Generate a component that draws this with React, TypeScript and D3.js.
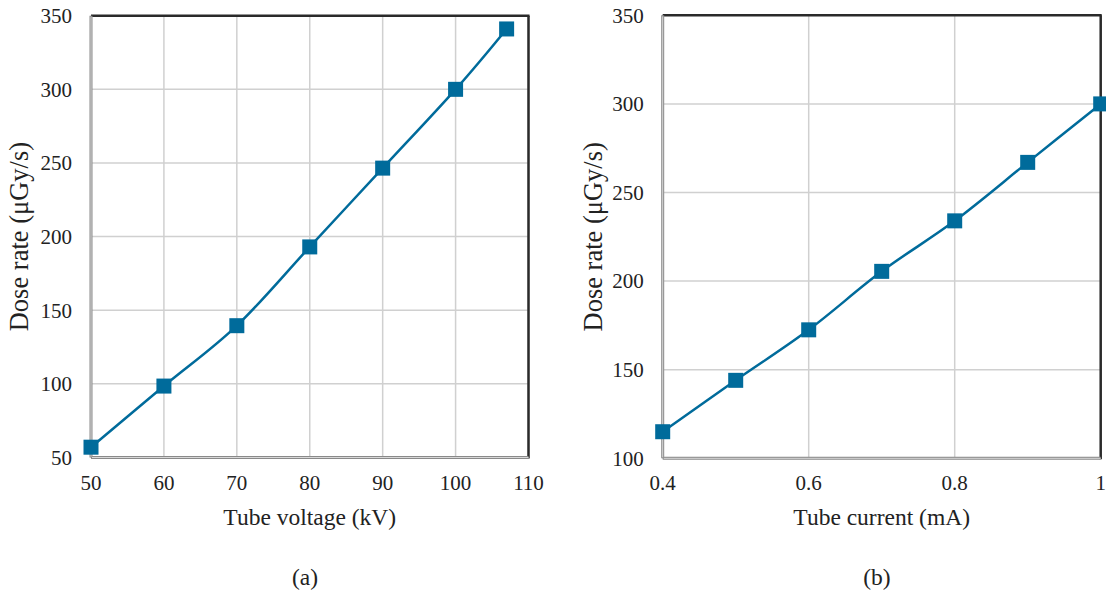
import React from "react";
import * as d3 from "d3";

const voltageKV = [50, 60, 70, 80, 90, 100, 107];
const doseRateVoltage = [57, 98.5, 139.5, 193, 246.5, 300, 341];
const voltageTicks = [50, 60, 70, 80, 90, 100, 110];
const doseTicksA = [50, 100, 150, 200, 250, 300, 350];

const currentMA = [0.4, 0.5, 0.6, 0.7, 0.8, 0.9, 1.0];
const doseRateCurrent = [115, 144, 172.5, 205.5, 234, 267, 300];
const currentTicks = [0.4, 0.6, 0.8, 1];
const doseTicksB = [100, 150, 200, 250, 300, 350];

const COLOR = "#006b9b";
const FONT = "'Liberation Serif', 'Times New Roman', serif";

type PanelProps = {
  xs: number[];
  ys: number[];
  xTicks: number[];
  yTicks: number[];
  xDomain: [number, number];
  yDomain: [number, number];
  left: number;
  right: number;
  top: number;
  bottom: number;
  xLabel: string;
  yLabel: string;
  yLabelX: number;
  caption: string;
  captionX: number;
  fmt: (v: number) => string;
};

function Panel(p: PanelProps) {
  const x = d3.scaleLinear().domain(p.xDomain).range([p.left, p.right]);
  const y = d3.scaleLinear().domain(p.yDomain).range([p.bottom, p.top]);
  const pts: [number, number][] = p.xs.map((v, i) => [x(v), y(p.ys[i])]);
  const line = d3.line().curve(d3.curveCardinal.tension(0))(pts) || "";
  const ms = 15;
  return (
    <g>
      {p.yTicks.map((t) => (
        <line key={"gy" + t} x1={p.left} x2={p.right} y1={y(t)} y2={y(t)} stroke="#d0d0d0" strokeWidth={1.5} />
      ))}
      {p.xTicks.map((t) => (
        <line key={"gx" + t} x1={x(t)} x2={x(t)} y1={p.top} y2={p.bottom} stroke="#d0d0d0" strokeWidth={1.5} />
      ))}
      {/* top & right dark border */}
      <line x1={p.left} x2={p.right + 1} y1={p.top} y2={p.top} stroke="#2a2a2a" strokeWidth={2.5} />
      <line x1={p.right} x2={p.right} y1={p.top} y2={p.bottom + 1} stroke="#2a2a2a" strokeWidth={2.5} />
      {/* left & bottom gray double border */}
      <line x1={p.left} x2={p.left} y1={p.top} y2={p.bottom} stroke="#8a8a8a" strokeWidth={3} />
      <line x1={p.left} x2={p.right} y1={p.bottom} y2={p.bottom} stroke="#8a8a8a" strokeWidth={3} />
      <line x1={p.left} x2={p.left} y1={p.top + 1} y2={p.bottom - 1} stroke="#d8d8d8" strokeWidth={1} />
      <line x1={p.left + 1} x2={p.right} y1={p.bottom} y2={p.bottom} stroke="#d8d8d8" strokeWidth={1} />
      <path d={line} fill="none" stroke={COLOR} strokeWidth={2.5} />
      {pts.map(([px, py], i) => (
        <rect key={"m" + i} x={px - ms / 2} y={py - ms / 2} width={ms} height={ms} fill={COLOR} />
      ))}
      {p.yTicks.map((t) => (
        <text key={"ty" + t} x={p.left - 19} y={y(t)} dy="0.35em" textAnchor="end" fontSize={21} fontFamily={FONT} fill="#222">
          {t}
        </text>
      ))}
      {p.xTicks.map((t) => (
        <text key={"tx" + t} x={x(t)} y={490} textAnchor="middle" fontSize={21} fontFamily={FONT} fill="#222">
          {p.fmt(t)}
        </text>
      ))}
      <text x={(p.left + p.right) / 2} y={525} textAnchor="middle" fontSize={23.5} fontFamily={FONT} fill="#222">
        {p.xLabel}
      </text>
      <text
        transform={`translate(${p.yLabelX},${(p.top + p.bottom) / 2}) rotate(-90)`}
        textAnchor="middle"
        fontSize={26.5}
        fontFamily={FONT}
        fill="#222"
      >
        {p.yLabel}
      </text>
      <text x={p.captionX} y={585} textAnchor="middle" fontSize={23.5} fontFamily={FONT} fill="#222">
        {p.caption}
      </text>
    </g>
  );
}

export default function App() {
  return (
    <svg width={1106} height={593} style={{ position: "absolute", left: 0, top: 0, background: "#fff" }}>
      <rect width={1106} height={593} fill="#fff" />
      <Panel
        xs={voltageKV}
        ys={doseRateVoltage}
        xTicks={voltageTicks}
        yTicks={doseTicksA}
        xDomain={[50, 110]}
        yDomain={[50, 350]}
        left={91}
        right={528.5}
        top={15.7}
        bottom={457.5}
        xLabel="Tube voltage (kV)"
        yLabel="Dose rate (μGy/s)"
        yLabelX={28}
        caption="(a)"
        captionX={305}
        fmt={(v) => String(v)}
      />
      <Panel
        xs={currentMA}
        ys={doseRateCurrent}
        xTicks={currentTicks}
        yTicks={doseTicksB}
        xDomain={[0.4, 1]}
        yDomain={[100, 350]}
        left={662.7}
        right={1100.7}
        top={15.3}
        bottom={458.3}
        xLabel="Tube current (mA)"
        yLabel="Dose rate (μGy/s)"
        yLabelX={602}
        caption="(b)"
        captionX={877}
        fmt={(v) => String(v)}
      />
    </svg>
  );
}
